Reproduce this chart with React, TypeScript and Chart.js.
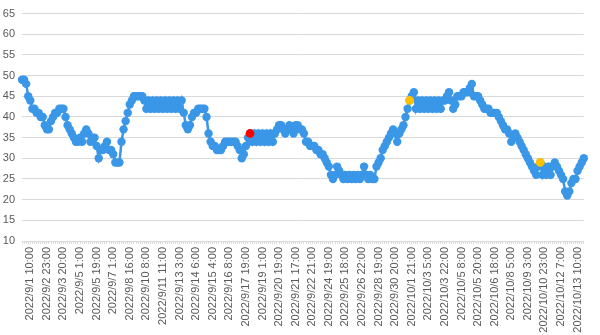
import React, { useEffect, useRef } from 'react';
import { Chart, registerables } from 'chart.js';

Chart.register(...registerables);

// Tick labels shown on the x axis (one every LABEL_STEP categories)
const tickLabels: string[] = [
  '2022/9/1 10:00', '2022/9/2 23:00', '2022/9/3 20:00', '2022/9/5 1:00', '2022/9/5 19:00',
  '2022/9/7 1:00', '2022/9/8 16:00', '2022/9/10 8:00', '2022/9/11 11:00', '2022/9/13 3:00',
  '2022/9/14 6:00', '2022/9/15 4:00', '2022/9/16 8:00', '2022/9/17 19:00', '2022/9/19 1:00',
  '2022/9/20 19:00', '2022/9/21 17:00', '2022/9/22 21:00', '2022/9/24 19:00', '2022/9/25 18:00',
  '2022/9/26 22:00', '2022/9/28 19:00', '2022/9/30 20:00', '2022/10/1 21:00', '2022/10/3 5:00',
  '2022/10/3 22:00', '2022/10/5 8:00', '2022/10/5 20:00', '2022/10/6 18:00', '2022/10/8 5:00',
  '2022/10/9 3:00', '2022/10/10 23:00', '2022/10/12 7:00', '2022/10/13 10:00',
];

const LABEL_STEP = 8;
const LABEL_OFFSET = 4;

// Series values (one per category)
const values: number[] = [
  49, 49, 48, 45, 44, 42, 42, 41, 41, 40,
  40, 38, 37, 37, 39, 40, 41, 41, 42, 42,
  42, 40, 38, 37, 36, 35, 34, 34, 35, 34,
  36, 37, 36, 34, 35, 35, 33, 30, 32, 32,
  33, 34, 32, 32, 31, 29, 29, 29, 34, 37,
  39, 41, 43, 44, 45, 45, 45, 45, 45, 44,
  42, 44, 42, 44, 42, 44, 42, 44, 42, 44,
  42, 44, 42, 44, 42, 44, 42, 44, 41, 38,
  37, 38, 40, 41, 41, 42, 42, 42, 42, 40,
  36, 34, 33, 33, 32, 32, 32, 33, 34, 34,
  34, 34, 34, 34, 33, 32, 30, 31, 33, 35,
  36, 34, 36, 34, 36, 34, 36, 34, 36, 34,
  36, 34, 36, 37, 38, 38, 37, 36, 37, 38,
  37, 36, 38, 38, 37, 37, 36, 34, 34, 33,
  33, 33, 32, 32, 31, 31, 30, 29, 28, 26,
  25, 26, 28, 27, 26, 25, 26, 25, 26, 25,
  26, 25, 26, 25, 26, 28, 26, 25, 26, 25,
  25, 28, 29, 30, 32, 33, 34, 35, 36, 37,
  36, 34, 36, 37, 38, 40, 42, 44, 45, 46,
  42, 44, 42, 44, 42, 44, 42, 44, 42, 44,
  42, 44, 42, 44, 44, 45, 46, 44, 42, 43,
  45, 45, 45, 46, 46, 46, 47, 48, 45, 45,
  45, 44, 43, 42, 42, 42, 41, 41, 41, 41,
  40, 39, 38, 37, 37, 36, 34, 35, 36, 35,
  34, 33, 32, 31, 30, 29, 28, 27, 26, 28,
  29, 26, 28, 26, 28, 26, 28, 29, 28, 27,
  26, 25, 22, 21, 22, 24, 25, 25, 27, 28,
  29, 30,
];

// Highlighted points (indices into values)
const redPoints: number[] = [110];
const goldPoints: number[] = [187, 250];

const BLUE = '#3A97E7';
const RED = '#FF0000';
const GOLD = '#FFC000';
const GRID = '#D9D9D9';
const TEXT = '#595959';
const FONT = { family: 'Liberation Sans, Arial, sans-serif', size: 11 };

export default function App() {
  const ref = useRef<HTMLCanvasElement | null>(null);

  useEffect(() => {
    document.body.style.margin = '0';
    if (!ref.current) return;
    const categories = values.map((_, i) => {
      const k = i - LABEL_OFFSET;
      if (k >= 0 && k % LABEL_STEP === 0) return tickLabels[k / LABEL_STEP] ?? '';
      return '';
    });
    const isHl = (i: number) => redPoints.includes(i) || goldPoints.includes(i);
    const hlData = values.map((v, i) => (isHl(i) ? v : null));
    const hlColors = values.map((_, i) => (redPoints.includes(i) ? RED : GOLD));

    const chart = new Chart(ref.current, {
      type: 'line',
      data: {
        labels: categories,
        datasets: [
          {
            data: hlData,
            showLine: false,
            pointRadius: 4.4,
            pointBackgroundColor: hlColors,
            pointBorderColor: hlColors,
            pointBorderWidth: 0,
          },
          {
            data: values,
            borderColor: BLUE,
            borderWidth: 2.5,
            pointRadius: 4.2,
            pointBackgroundColor: BLUE,
            pointBorderColor: BLUE,
            pointBorderWidth: 0,
            tension: 0,
          },
        ],
      },
      options: {
        responsive: true,
        maintainAspectRatio: false,
        animation: false,
        events: [],
        layout: { padding: { top: 6, right: 8, left: 0, bottom: 0 } },
        plugins: { legend: { display: false }, tooltip: { enabled: false } },
        scales: {
          x: {
            type: 'category',
            offset: false,
            ticks: {
              autoSkip: false,
              maxRotation: 90,
              minRotation: 90,
              padding: 3,
              color: TEXT,
              font: FONT,
            },
            grid: { drawOnChartArea: false, drawTicks: true, tickLength: 3, color: GRID },
            border: { color: GRID },
            afterFit: (s: any) => { s.height = 94; },
          },
          y: {
            min: 10,
            max: 65,
            ticks: { stepSize: 5, padding: 7, color: TEXT, font: FONT },
            grid: { color: GRID, drawTicks: false },
            border: { display: false },
            afterFit: (s: any) => { s.width = 22; },
          },
        },
      },
    });
    return () => chart.destroy();
  }, []);

  return (
    <div style={{ width: 600, height: 335, position: 'relative' }}>
      <canvas ref={ref} />
    </div>
  );
}
